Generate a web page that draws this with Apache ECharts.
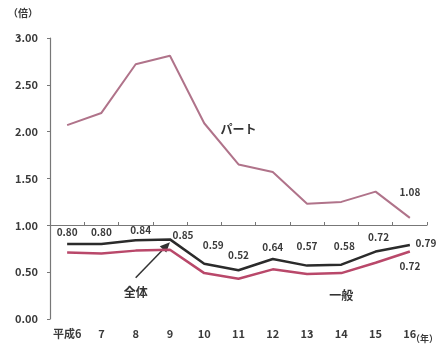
<!DOCTYPE html>
<html>
<head>
<meta charset="utf-8">
<script src="https://cdn.jsdelivr.net/npm/echarts@6/dist/echarts.min.js"></script>
<style>
html,body{margin:0;padding:0;background:#fff;}
#c{width:438px;height:346px;}
</style>
</head>
<body>
<div id="c"></div>
<script>
// Years (Heisei era)
var years = ['平成6', '7', '8', '9', '10', '11', '12', '13', '14', '15', '16'];
// Part-time ratio
var partValues = [2.07, 2.20, 2.72, 2.81, 2.09, 1.65, 1.57, 1.23, 1.25, 1.36, 1.08];
// All workers
var totalValues = [0.80, 0.80, 0.84, 0.85, 0.59, 0.52, 0.64, 0.57, 0.58, 0.72, 0.79];
// General workers
var generalValues = [0.71, 0.70, 0.73, 0.74, 0.49, 0.43, 0.53, 0.48, 0.49, 0.60, 0.72];

var FONT = '"Noto Sans CJK JP", "Noto Sans", sans-serif';
var txt = '#3a3a3a';

// label offsets (px) for the 全体 values
var totalLabelOffsets = [[0, -12], [0, -12], [5, -10], [13, -4], [9, -19], [0, -15], [0, -12], [0, -19], [3, -18], [3, -14], [16, -2]];

var chart = echarts.init(document.getElementById('c'), null, {renderer: 'canvas'});

chart.setOption({
  animation: false,
  backgroundColor: '#fff',
  grid: [{left: 50, right: 11, top: 38, bottom: 27}, {left: 50, right: 11, top: 38, bottom: 121}],
  xAxis: [{
    type: 'category', data: years, gridIndex: 0, boundaryGap: true,
    axisLine: {show: false}, axisTick: {show: false},
    axisLabel: {interval: 0, color: txt, fontFamily: FONT, fontSize: 11, fontWeight: 'bold', margin: 9}
  }, {
    type: 'category', data: years, gridIndex: 1, boundaryGap: true,
    axisLine: {show: true, lineStyle: {color: '#777', width: 1.2}},
    axisTick: {show: true, interval: 0, inside: true, length: 3, lineStyle: {color: '#777'}},
    axisLabel: {show: false}
  }],
  yAxis: [{
    type: 'value', gridIndex: 0, min: 0, max: 3, interval: 0.5,
    axisLine: {show: true, lineStyle: {color: '#777', width: 1.2}},
    axisTick: {show: true, length: 3, lineStyle: {color: '#777'}},
    splitLine: {show: false},
    axisLabel: {color: txt, fontFamily: FONT, fontSize: 11, fontWeight: 'bold', margin: 12,
      formatter: function (v) { return v.toFixed(2); }}
  }, {
    type: 'value', gridIndex: 1, show: false
  }],
  series: [{
    name: 'パート', type: 'line', data: partValues, symbol: 'none',
    lineStyle: {color: '#b0738a', width: 2},
    markPoint: {
      symbol: 'rect', symbolSize: 0,
      label: {show: true, color: txt, fontFamily: FONT, fontSize: 10, fontWeight: 'bold', offset: [0, -26]},
      data: [{coord: [10, partValues[10]], value: partValues[10].toFixed(2)}]
    }
  }, {
    name: '全体', type: 'line', data: totalValues, symbol: 'none', z: 3,
    lineStyle: {color: '#2b2b2b', width: 2.5},
    markPoint: {
      symbol: 'rect', symbolSize: 0,
      label: {show: true, color: txt, fontFamily: FONT, fontSize: 10, fontWeight: 'bold'},
      data: totalValues.map(function (v, i) {
        return {coord: [i, v], value: v.toFixed(2), label: {offset: totalLabelOffsets[i]}};
      })
    }
  }, {
    name: '一般', type: 'line', data: generalValues, symbol: 'none',
    lineStyle: {color: '#b9486a', width: 2.5},
    markPoint: {
      symbol: 'rect', symbolSize: 0,
      label: {show: true, color: txt, fontFamily: FONT, fontSize: 10, fontWeight: 'bold', offset: [0, 15]},
      data: [{coord: [10, generalValues[10]], value: generalValues[10].toFixed(2)}]
    }
  }]
});

// annotations positioned from the data coordinates
var toPx = function (p) { return chart.convertToPixel({xAxisIndex: 0, yAxisIndex: 0}, p); };
var tip = toPx([3, 0.82]);
var tail = toPx([2.0, 0.44]);
var ang = Math.atan2(tip[1] - tail[1], tip[0] - tail[0]);
var hl = 10, hw = 4.5;
var bx = tip[0] - hl * Math.cos(ang), by = tip[1] - hl * Math.sin(ang);
var px = -Math.sin(ang), py = Math.cos(ang);
var partLbl = toPx([5.4, 2.02]);
var totLbl = toPx([1.65, 0.28]);
var genLbl = toPx([7.95, 0.25]);
var labelStyle = {fill: '#333', font: 'bold 12px ' + FONT, textAlign: 'center', textVerticalAlign: 'middle'};

chart.setOption({
  graphic: [
    {type: 'text', left: 8, top: 8, style: {text: '（倍）', fill: txt, font: 'bold 10px ' + FONT}},
    {type: 'text', right: 0, top: 334, style: {text: '（年）', fill: txt, font: 'bold 9px ' + FONT}},
    {type: 'text', x: partLbl[0], y: partLbl[1], style: Object.assign({text: 'パート'}, labelStyle)},
    {type: 'text', x: totLbl[0], y: totLbl[1], style: Object.assign({text: '全体'}, labelStyle)},
    {type: 'text', x: genLbl[0], y: genLbl[1], style: Object.assign({text: '一般'}, labelStyle)},
    {type: 'line', shape: {x1: tail[0], y1: tail[1], x2: bx, y2: by}, style: {stroke: '#333', lineWidth: 1.5}},
    {type: 'polygon', shape: {points: [[tip[0], tip[1]], [bx + px * hw, by + py * hw], [bx - px * hw, by - py * hw]]},
      style: {fill: '#333'}}
  ]
});
</script>
</body>
</html>
